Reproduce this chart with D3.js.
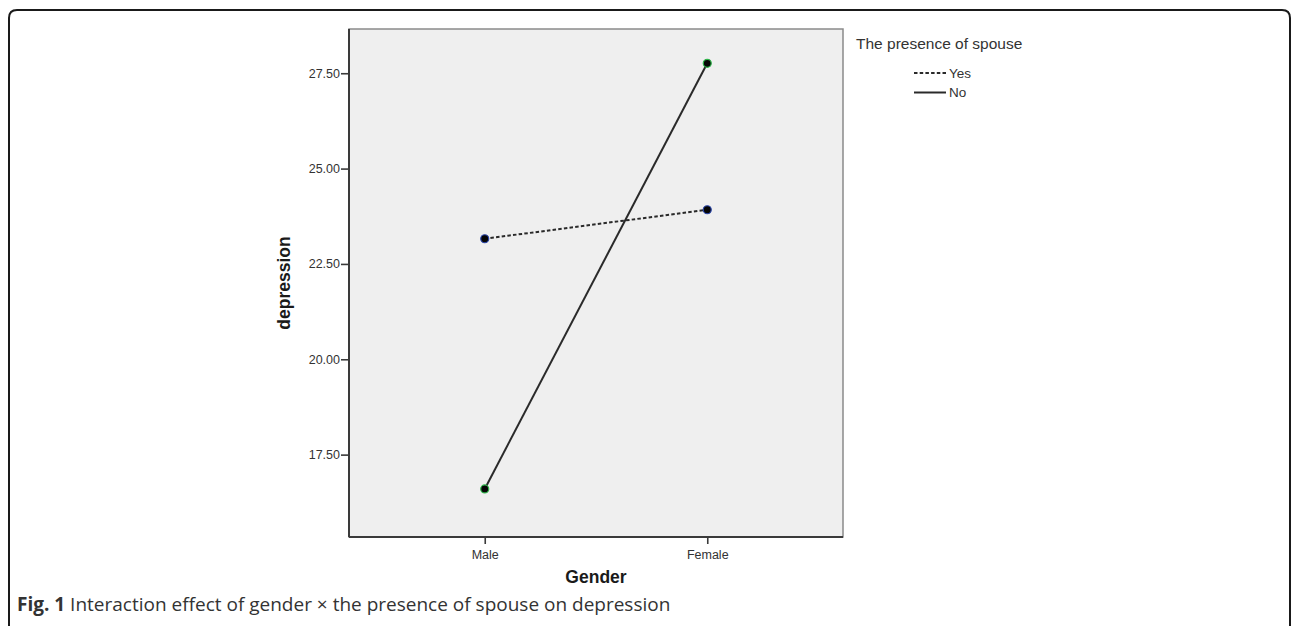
<!DOCTYPE html>
<html>
<head>
<meta charset="utf-8">
<script src="https://cdn.jsdelivr.net/npm/d3@7"></script>
<style>
  body { margin: 0; background: #fff; }
  svg { display: block; }
</style>
</head>
<body>
<div id="chart"></div>
<script>
// values
const genders = ["Male", "Female"];
const spouseGroups = ["Yes", "No"];
const yesValues = [23.16, 23.92];
const noValues = [16.60, 27.76];
const yTicks = [17.5, 20, 22.5, 25, 27.5];

const width = 1292;
const height = 626;
const plot = { left: 349, top: 29, right: 843, bottom: 537 };

const svg = d3.select('#chart')
    .append('svg')
    .attr("width", width)
    .attr("height", height);

// outer figure frame (rounded, runs off the bottom)
svg.append("path")
    .attr("d", `M9,${height + 20} V18 Q9,10 17,10 H1282 Q1290,10 1290,18 V${height + 20}`)
    .attr("fill", "none")
    .attr("stroke", "#1a1a1a")
    .attr("stroke-width", 2);

const x = d3.scalePoint()
    .domain(genders)
    .range([plot.left, plot.right])
    .padding(0.61);

const y = d3.scaleLinear()
    .domain([15.34, 28.66])
    .range([plot.bottom, plot.top]);

// plot background
svg.append("rect")
    .attr("x", plot.left)
    .attr("y", plot.top)
    .attr("width", plot.right - plot.left)
    .attr("height", plot.bottom - plot.top)
    .attr("fill", "#efefef")
    .attr("stroke", "#8a8a8a")
    .attr("stroke-width", 1.5);

// axes
const yAxis = svg.append("g")
    .attr("transform", `translate(${plot.left},0)`)
    .call(d3.axisLeft(y).tickValues(yTicks).tickFormat(d3.format(".2f")).tickSize(8).tickPadding(1));

const xAxis = svg.append("g")
    .attr("transform", `translate(0,${plot.bottom})`)
    .call(d3.axisBottom(x).tickSize(7).tickPadding(6));

[yAxis, xAxis].forEach(g => {
  g.select(".domain").attr("stroke", "#3a3a3a").attr("stroke-width", 2);
  g.selectAll(".tick line").attr("stroke", "#3a3a3a").attr("stroke-width", 1.6);
  g.selectAll(".tick text")
      .attr("fill", "#333")
      .attr("font-family", "Liberation Sans, Arial, sans-serif")
      .attr("font-size", 12.5);
});
yAxis.select(".domain").attr("d", `M0,${plot.top}V${plot.bottom}`);
xAxis.select(".domain").attr("d", `M${plot.left},0H${plot.right}`);

// axis titles
svg.append("text")
    .attr("x", (plot.left + plot.right) / 2)
    .attr("y", 583)
    .attr("text-anchor", "middle")
    .attr("font-family", "Liberation Sans, Arial, sans-serif")
    .attr("font-weight", "bold")
    .attr("font-size", 17.5)
    .attr("fill", "#1a1a1a")
    .text("Gender");

svg.append("text")
    .attr("transform", `translate(290,${(plot.top + plot.bottom) / 2}) rotate(-90)`)
    .attr("text-anchor", "middle")
    .attr("font-family", "Liberation Sans, Arial, sans-serif")
    .attr("font-weight", "bold")
    .attr("font-size", 17.5)
    .attr("fill", "#1a1a1a")
    .text("depression");

// series
const series = [
  { name: spouseGroups[0], values: yesValues, dash: "3.5,2.2", ring: "#2a45a8" },
  { name: spouseGroups[1], values: noValues, dash: null, ring: "#2fb54a" }
];

const line = d3.line()
    .x((d, i) => x(genders[i]))
    .y(d => y(d));

series.forEach(s => {
  svg.append("path")
      .datum(s.values)
      .attr("d", line)
      .attr("fill", "none")
      .attr("stroke", "#2a2a2a")
      .attr("stroke-width", 2)
      .attr("stroke-dasharray", s.dash);

  svg.append("g")
    .selectAll()
    .data(s.values)
    .join("circle")
      .attr("cx", (d, i) => x(genders[i]))
      .attr("cy", d => y(d))
      .attr("r", 4)
      .attr("fill", "#050505")
      .attr("stroke", s.ring)
      .attr("stroke-width", 1.2);
});

// legend
const legend = svg.append("g")
    .attr("font-family", "Liberation Sans, Arial, sans-serif")
    .attr("fill", "#333");

legend.append("text")
    .attr("x", 856)
    .attr("y", 49)
    .attr("font-size", 15.5)
    .text("The presence of spouse");

series.forEach((s, i) => {
  const ly = 73 + i * 19.5;
  legend.append("line")
      .attr("x1", 914)
      .attr("x2", 946)
      .attr("y1", ly)
      .attr("y2", ly)
      .attr("stroke", "#2a2a2a")
      .attr("stroke-width", 2)
      .attr("stroke-dasharray", s.dash);
  legend.append("text")
      .attr("x", 949)
      .attr("y", ly + 4.5)
      .attr("font-size", 13.5)
      .text(s.name);
});

// caption
const caption = svg.append("text")
    .attr("x", 17)
    .attr("y", 611)
    .attr("font-family", "Open Sans, Noto Sans, sans-serif")
    .attr("font-size", 19)
    .attr("fill", "#333");
caption.append("tspan").attr("font-weight", "bold").text("Fig. 1");
caption.append("tspan").text(" Interaction effect of gender \u00d7 the presence of spouse on depression");
</script>
</body>
</html>
